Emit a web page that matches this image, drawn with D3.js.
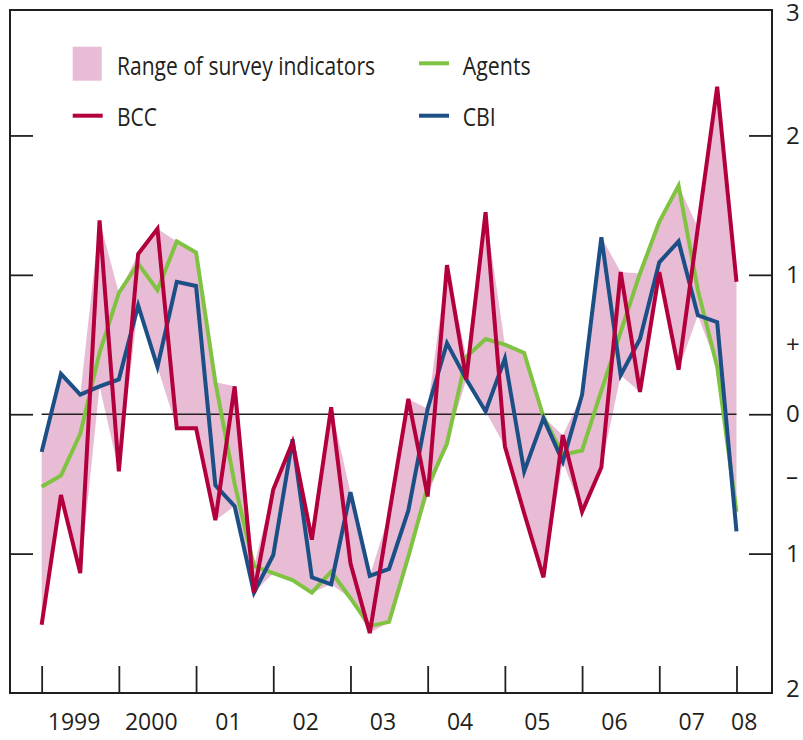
<!DOCTYPE html>
<html>
<head>
<meta charset="utf-8">
<script src="https://cdn.jsdelivr.net/npm/d3@7"></script>
<style>
    body { margin: 0; background: #ffffff; }
    #chart-area { width: 803px; height: 740px; }
    text { font-family: "Open Sans", "Noto Sans", sans-serif; fill: #231f20; }
</style>
</head>
<body>
<div id="chart-area"></div>
<script>

// year ticks and labels (data is quarterly, 1999 Q1 to 2008 Q1)
let years = [1999, 2000, 2001, 2002, 2003, 2004, 2005, 2006, 2007, 2008];
let yearLabels = ["1999", "2000", "01", "02", "03", "04", "05", "06", "07", "08"];

let bcc = [-1.51, -0.58, -1.14, 1.39, -0.41, 1.15, 1.33, -0.10, -0.10, -0.76,
    0.20, -1.28, -0.54, -0.20, -0.90, 0.05, -1.07, -1.57, -0.72, 0.11,
    -0.59, 1.07, 0.25, 1.45, -0.23, -0.71, -1.17, -0.15, -0.70, -0.38,
    1.02, 0.16, 1.02, 0.32, 1.34, 2.35, 0.95];

let cbi = [-0.27, 0.29, 0.14, 0.20, 0.25, 0.78, 0.34, 0.95, 0.92, -0.51,
    -0.66, -1.28, -1.01, -0.18, -1.17, -1.22, -0.56, -1.16, -1.11, -0.69,
    0.04, 0.51, 0.25, 0.02, 0.40, -0.41, -0.03, -0.34, 0.14, 1.27,
    0.28, 0.54, 1.09, 1.24, 0.71, 0.66, -0.84];

let agents = [-0.52, -0.44, -0.14, 0.44, 0.87, 1.08, 0.89, 1.24, 1.16, 0.23,
    -0.50, -1.09, -1.14, -1.19, -1.28, -1.13, -1.32, -1.52, -1.49, -1.02,
    -0.52, -0.21, 0.41, 0.54, 0.50, 0.44, -0.02, -0.29, -0.26, 0.17,
    0.59, 1.01, 1.38, 1.64, 0.89, 0.34, -0.70];

// range of survey indicators
let rangeHigh = [-0.27, 0.29, 0.14, 1.39, 0.87, 1.15, 1.33, 1.24, 1.16, 0.23,
    0.20, -1.09, -0.54, -0.18, -0.90, 0.05, -0.56, -1.16, -0.72, 0.11,
    0.04, 1.07, 0.41, 1.45, 0.50, 0.44, -0.02, -0.15, 0.14, 1.27,
    1.02, 1.01, 1.38, 1.64, 1.34, 2.35, 0.95];

let rangeLow = [-1.51, -0.58, -1.14, 0.20, -0.41, 0.78, 0.34, -0.10, -0.10, -0.76,
    -0.66, -1.28, -1.14, -1.19, -1.28, -1.22, -1.32, -1.57, -1.49, -1.02,
    -0.59, -0.21, 0.25, 0.02, -0.23, -0.71, -1.17, -0.34, -0.70, -0.38,
    0.28, 0.16, 1.02, 0.32, 0.71, 0.34, -0.84];

// right hand labels; the end ones are nudged inside the frame edges
let yTicks = [2, 1, 0, -1];
let yLabelValues = [2.88, 2, 1, 0.5, 0, -0.45, -1, -1.97];
let yLabelText = ["3", "2", "1", "+", "0", "\u2013", "1", "2"];


class surveyVis {
    constructor(parentElement) {
        this.parentElement = parentElement;
        this.initVis();
    }

    initVis() {
        let vis = this;

        vis.margin = {top: 10, right: 31, bottom: 47, left: 10};
        vis.width = 803 - vis.margin.left - vis.margin.right;
        vis.height = 740 - vis.margin.top - vis.margin.bottom;

        vis.colors = {range: "#e9bcd6", bcc: "#b3003c", cbi: "#1b4f86", agents: "#80c342"};

        vis.svg = d3.select("#" + vis.parentElement).append("svg")
            .attr("width", vis.width + vis.margin.left + vis.margin.right)
            .attr("height", vis.height + vis.margin.top + vis.margin.bottom)
            .append("g")
            .attr("transform", `translate (${vis.margin.left}, ${vis.margin.top})`);

        // scales
        vis.x = d3.scaleLinear()
            .domain([1998.59, 2008.46])
            .range([0, vis.width]);

        vis.y = d3.scaleLinear()
            .domain([-2, 2.9])
            .range([vis.height, 0]);

        vis.quarters = d3.range(bcc.length).map(i => years[0] + i / 4);

        vis.wrangleData();
    }

    wrangleData() {
        let vis = this;

        vis.displayData = vis.quarters.map((q, i) => ({
            date: q,
            bcc: bcc[i],
            cbi: cbi[i],
            agents: agents[i],
            high: rangeHigh[i],
            low: rangeLow[i]
        }));

        vis.updateVis();
    }

    updateVis() {
        let vis = this;

        // shaded range
        let area = d3.area()
            .x(d => vis.x(d.date))
            .y0(d => vis.y(d.low))
            .y1(d => vis.y(d.high));

        vis.svg.append("path")
            .datum(vis.displayData)
            .attr("d", area)
            .attr("fill", vis.colors.range);

        // zero line
        vis.svg.append("line")
            .attr("x1", vis.x(vis.quarters[0]))
            .attr("x2", vis.x(vis.quarters[vis.quarters.length - 1]))
            .attr("y1", vis.y(0))
            .attr("y2", vis.y(0))
            .attr("stroke", "#231f20")
            .attr("stroke-width", 1.6);

        // series lines, BCC on top
        ["agents", "cbi", "bcc"].forEach(key => {
            let line = d3.line()
                .x(d => vis.x(d.date))
                .y(d => vis.y(d[key]));

            vis.svg.append("path")
                .datum(vis.displayData)
                .attr("d", line)
                .attr("fill", "none")
                .attr("stroke", vis.colors[key])
                .attr("stroke-width", 4);
        });

        // frame
        vis.svg.append("rect")
            .attr("width", vis.width)
            .attr("height", vis.height)
            .attr("fill", "none")
            .attr("stroke", "#231f20")
            .attr("stroke-width", 2);

        // inside ticks on both sides
        vis.svg.append("g")
            .attr("class", "y-axis-left axis")
            .call(d3.axisLeft(vis.y).tickValues(yTicks).tickSize(-23).tickFormat(""));

        vis.svg.append("g")
            .attr("class", "y-axis-right axis")
            .attr("transform", `translate(${vis.width}, 0)`)
            .call(d3.axisRight(vis.y).tickValues(yTicks).tickSize(-23).tickFormat(""));

        // right labels
        vis.svg.append("g")
            .attr("class", "y-labels axis")
            .attr("transform", `translate(${vis.width}, 0)`)
            .call(d3.axisRight(vis.y).tickValues(yLabelValues).tickSize(0).tickPadding(14)
                .tickFormat((d, i) => yLabelText[i]));

        // year ticks along the bottom
        vis.svg.append("g")
            .attr("class", "x-axis axis")
            .attr("transform", `translate(0, ${vis.height})`)
            .call(d3.axisBottom(vis.x).tickValues(years).tickSize(-27).tickFormat(""));

        vis.svg.selectAll(".axis .domain").remove();
        vis.svg.selectAll(".axis line")
            .attr("stroke", "#231f20")
            .attr("stroke-width", 1.8);
        vis.svg.selectAll(".y-labels text")
            .style("font-family", "'Open Sans', 'Noto Sans', sans-serif")
            .style("font-size", "24px")
            .attr("fill", "#231f20");

        // year labels
        vis.svg.selectAll(".year-label")
            .data(years)
            .enter()
            .append("text")
            .attr("class", "year-label")
            .attr("x", (d, i) => vis.x(d + (i === years.length - 1 ? 0.1 : 0.42)))
            .attr("y", vis.height + 37)
            .attr("text-anchor", "middle")
            .style("font-size", "23px")
            .text((d, i) => yearLabels[i]);

        // legend
        let legend = vis.svg.append("g").attr("class", "legend");

        legend.append("rect")
            .attr("x", 62.7).attr("y", 36.7)
            .attr("width", 29).attr("height", 34)
            .attr("fill", vis.colors.range);

        let legendLines = [
            {key: "bcc", x: 62.7, y: 105.7},
            {key: "agents", x: 409, y: 53.3},
            {key: "cbi", x: 409, y: 105.7}
        ];

        legend.selectAll(".legend-line")
            .data(legendLines)
            .enter()
            .append("line")
            .attr("class", "legend-line")
            .attr("x1", d => d.x)
            .attr("x2", d => d.x + 30)
            .attr("y1", d => d.y)
            .attr("y2", d => d.y)
            .attr("stroke", d => vis.colors[d.key])
            .attr("stroke-width", 4);

        let legendText = [
            {label: "Range of survey indicators", x: 107, y: 65, w: 258},
            {label: "BCC", x: 107, y: 116, w: 40},
            {label: "Agents", x: 452.7, y: 65, w: 68},
            {label: "CBI", x: 452.7, y: 116, w: 33}
        ];

        legend.selectAll(".legend-text")
            .data(legendText)
            .enter()
            .append("text")
            .attr("class", "legend-text")
            .attr("x", d => d.x)
            .attr("y", d => d.y)
            .attr("textLength", d => d.w)
            .attr("lengthAdjust", "spacingAndGlyphs")
            .style("font-size", "26px")
            .text(d => d.label);
    }
}

let mySurveyVis = new surveyVis("chart-area");
</script>
</body>
</html>
